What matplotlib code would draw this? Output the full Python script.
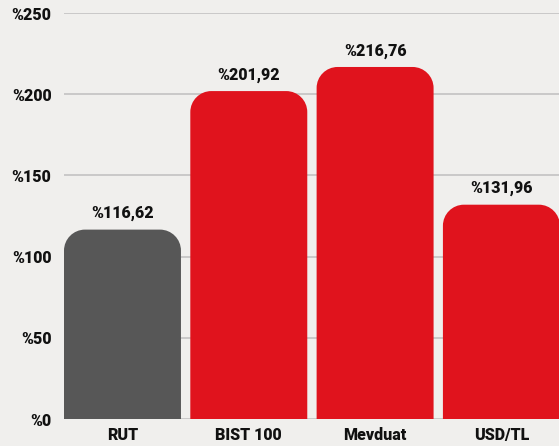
import matplotlib
matplotlib.use('Agg')
import matplotlib.pyplot as plt
from matplotlib.path import Path
from matplotlib.patches import PathPatch

# chart data
categories = ['RUT', 'BIST 100', 'Mevduat', 'USD/TL']
values = [116.62, 201.92, 216.76, 131.96]
value_labels = ['%116,62', '%201,92', '%216,76', '%131,96']
bar_colors = ['#575757', '#e0131d', '#e0131d', '#e0131d']
yticks = [0, 50, 100, 150, 200, 250]
ytick_labels = ['%0', '%50', '%100', '%150', '%200', '%250']

bg = '#f0efed'
txt = '#111111'
plt.rcParams['font.family'] = ['Roboto', 'DejaVu Sans']
plt.rcParams['font.weight'] = 'heavy'

W, H = 559, 446
fig = plt.figure(figsize=(W / 100, H / 100), dpi=100, facecolor=bg)
ax_left, ax_right = 64, 559
ax_bottom, ax_top = 446 - 419, 446 - 13
ax = fig.add_axes([ax_left / W, ax_bottom / H, (ax_right - ax_left) / W, (ax_top - ax_bottom) / H])
ax.set_facecolor(bg)

bar_w = 0.926
xmin, xmax = -bar_w / 2, 3.456
ax.set_xlim(xmin, xmax)
ax.set_ylim(0, 250)

# rounded top corners, radius in pixels converted to data units
r_px = 21
rx = r_px / ((ax_right - ax_left) / (xmax - xmin))
ry = r_px / ((ax_top - ax_bottom) / 250)
k = 0.5523


def rounded_bar(x, h, w, color):
    x0, x1 = x - w / 2, x + w / 2
    verts = [
        (x0, 0), (x0, h - ry),
        (x0, h - ry + k * ry), (x0 + rx - k * rx, h), (x0 + rx, h),
        (x1 - rx, h),
        (x1 - rx + k * rx, h), (x1, h - ry + k * ry), (x1, h - ry),
        (x1, 0), (x0, 0),
    ]
    codes = [Path.MOVETO, Path.LINETO,
             Path.CURVE4, Path.CURVE4, Path.CURVE4,
             Path.LINETO,
             Path.CURVE4, Path.CURVE4, Path.CURVE4,
             Path.LINETO, Path.CLOSEPOLY]
    ax.add_patch(PathPatch(Path(verts, codes), facecolor=color, edgecolor='none', zorder=3))


for yt in yticks:
    ax.axhline(yt, color='#c6c6c6', lw=1.3, zorder=1)

for i, v in enumerate(values):
    rounded_bar(i, v, bar_w, bar_colors[i])
    ax.annotate(value_labels[i], (i, v), xytext=(0, 6), textcoords='offset points',
                ha='center', va='bottom', fontsize=11.5, fontweight='heavy', color=txt)

ax.set_yticks(yticks)
ax.set_yticklabels(ytick_labels, fontsize=11.5, fontweight='heavy', color=txt)
ax.set_xticks(range(len(categories)))
ax.set_xticklabels(categories, fontsize=11.5, fontweight='heavy', color=txt)
ax.tick_params(length=0)
ax.tick_params(axis='y', pad=9)
ax.tick_params(axis='x', pad=6)
for s in ax.spines.values():
    s.set_visible(False)

fig.savefig('out.png', dpi=100, facecolor=bg)
